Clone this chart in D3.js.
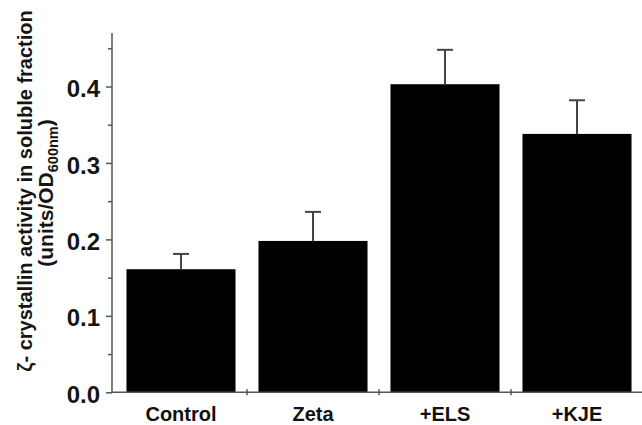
<!DOCTYPE html>
<html>
<head>
<meta charset="utf-8">
<script src="https://cdn.jsdelivr.net/npm/d3@7"></script>
<style>
  html, body { margin: 0; padding: 0; background: #fff; }
  svg { display: block; }
</style>
</head>
<body>
<svg id="chart" width="642" height="425"></svg>
<script>
const categories = ["Control", "Zeta", "+ELS", "+KJE"];
const values = [0.161, 0.198, 0.403, 0.338];
const errors = [0.020, 0.038, 0.045, 0.044];
const majorTicks = [0.0, 0.1, 0.2, 0.3, 0.4];
const minorTicks = [0.05, 0.15, 0.25, 0.35, 0.45];

const svg = d3.select("#chart");
const axisX0 = 112, plotTop = 33, plotBottom = 392.3;
const fontFam = "'Liberation Sans', Arial, Helvetica, sans-serif";

const y = d3.scaleLinear().domain([0, 0.47]).range([plotBottom, plotTop]);
const x = d3.scaleBand().domain(categories).range([115, 643])
  .paddingInner(0.174).paddingOuter(0.087);

const axisColor = "#555";

// bars
svg.append("g").selectAll("rect").data(categories).join("rect")
  .attr("x", d => x(d))
  .attr("width", x.bandwidth())
  .attr("y", (d, i) => y(values[i]))
  .attr("height", (d, i) => y(0) - y(values[i]))
  .attr("fill", "#000");

// error bars
const eb = svg.append("g").attr("stroke", "#444").attr("stroke-width", 2);
categories.forEach((c, i) => {
  const cx = x(c) + x.bandwidth() / 2;
  eb.append("line").attr("x1", cx).attr("x2", cx)
    .attr("y1", y(values[i])).attr("y2", y(values[i] + errors[i]));
  eb.append("line").attr("x1", cx - 8).attr("x2", cx + 8)
    .attr("y1", y(values[i] + errors[i])).attr("y2", y(values[i] + errors[i]));
});

// y axis major
const yAxis = d3.axisLeft(y).tickValues(majorTicks).tickSize(6).tickPadding(6)
  .tickFormat(d3.format(".1f"));
const gy = svg.append("g").attr("transform", `translate(${axisX0},0)`).call(yAxis);
gy.select(".domain").remove();
gy.selectAll(".tick line").attr("stroke", axisColor).attr("stroke-width", 1.5);
gy.selectAll(".tick text").attr("font-family", fontFam).attr("font-size", 24)
  .attr("font-weight", "bold").attr("fill", "#151515").attr("dy", "0.42em");

// y axis minor
const yMinor = d3.axisLeft(y).tickValues(minorTicks).tickSize(4).tickFormat("");
const gym = svg.append("g").attr("transform", `translate(${axisX0},0)`).call(yMinor);
gym.select(".domain").remove();
gym.selectAll(".tick line").attr("stroke", axisColor).attr("stroke-width", 1.5);

// y axis line
svg.append("line").attr("x1", axisX0).attr("x2", axisX0)
  .attr("y1", plotTop).attr("y2", plotBottom + 1)
  .attr("stroke", axisColor).attr("stroke-width", 1.5);

// x axis line
svg.append("line").attr("x1", axisX0).attr("x2", 642)
  .attr("y1", plotBottom).attr("y2", plotBottom)
  .attr("stroke", axisColor).attr("stroke-width", 1.5);

// x boundary ticks (between categories)
const gxt = svg.append("g").attr("stroke", axisColor).attr("stroke-width", 1.5);
categories.forEach(c => {
  const bx = x(c) + x.bandwidth() + x.step() * x.paddingInner() / 2;
  gxt.append("line").attr("x1", bx).attr("x2", bx)
    .attr("y1", plotBottom - 3).attr("y2", plotBottom + 3);
});

// x labels
svg.append("g").selectAll("text").data(categories).join("text")
  .attr("x", d => x(d) + x.bandwidth() / 2)
  .attr("y", 421)
  .attr("text-anchor", "middle")
  .attr("font-family", fontFam).attr("font-size", 20).attr("font-weight", "bold")
  .attr("fill", "#111")
  .text(d => d);

// y label
svg.append("text")
  .attr("transform", "translate(32,191) rotate(-90)")
  .attr("text-anchor", "middle")
  .attr("font-family", fontFam).attr("font-size", 20).attr("font-weight", "bold")
  .attr("fill", "#151515")
  .text("ζ- crystallin activity in soluble fraction");

const yl2 = svg.append("text")
  .attr("transform", "translate(53,193) rotate(-90)")
  .attr("text-anchor", "middle")
  .attr("font-family", fontFam).attr("font-size", 21).attr("font-weight", "bold")
  .attr("fill", "#151515");
yl2.append("tspan").text("(units/OD");
yl2.append("tspan").attr("font-size", 14.5).attr("dy", 5).text("600nm");
yl2.append("tspan").attr("dy", -5).text(")");
</script>
</body>
</html>
